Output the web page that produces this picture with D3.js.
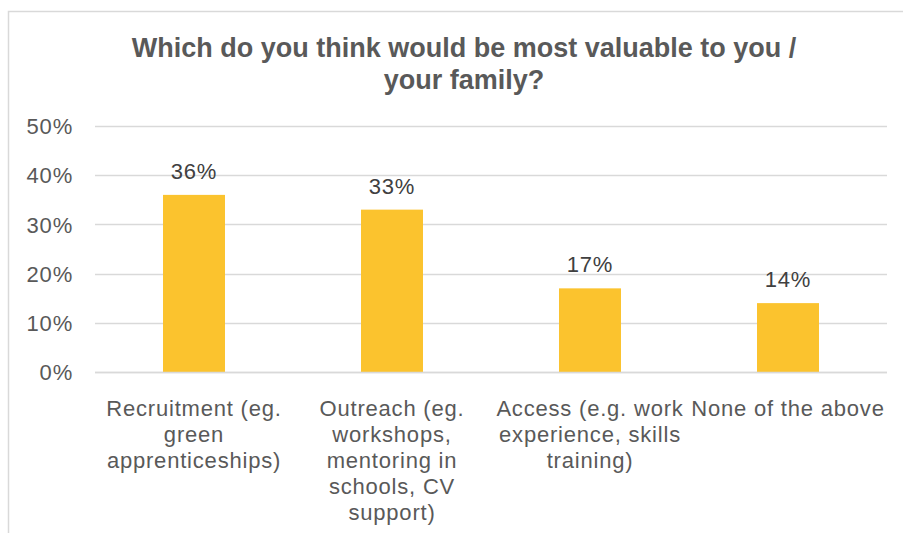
<!DOCTYPE html>
<html>
<head>
<meta charset="utf-8">
<script src="https://cdn.jsdelivr.net/npm/d3@7"></script>
<style>
  html, body { margin: 0; padding: 0; background: #fff; }
  svg { display: block; font-family: "Liberation Sans", Arial, sans-serif; }
</style>
</head>
<body>
<svg id="chart" width="903" height="533"></svg>
<script>
// Survey answers: share of respondents choosing each option
const categories = [
  "Recruitment (eg.\ngreen\napprenticeships)",
  "Outreach (eg.\nworkshops,\nmentoring in\nschools, CV\nsupport)",
  "Access (e.g. work\nexperience, skills\ntraining)",
  "None of the above"
];
const values = [0.36, 0.33, 0.17, 0.14];
const yTicks = [0, 0.1, 0.2, 0.3, 0.4, 0.5];
const titleLines = ["Which do you think would be most valuable to you /", "your family?"];

const svg = d3.select("#chart");
const textColor = "#595959";
const gridColor = "#d9d9d9";
const barColor = "#fbc32e";

// chart frame
svg.append("rect")
  .attr("x", 8.5).attr("y", 11.5)
  .attr("width", 1000).attr("height", 1000)
  .attr("fill", "#fff").attr("stroke", gridColor).attr("stroke-width", 1.5);

const plot = { left: 95, right: 887, top: 126, bottom: 372 };

const x = d3.scaleBand()
  .domain(categories)
  .range([plot.left, plot.right])
  .paddingInner(0.687).paddingOuter(0.3435);

const y = d3.scaleLinear()
  .domain([0, 0.5])
  .range([plot.bottom, plot.top]);

// title
svg.append("text")
  .attr("x", 464).attr("y", 57)
  .attr("text-anchor", "middle")
  .attr("fill", textColor)
  .attr("font-size", 27).attr("font-weight", "bold")
  .selectAll("tspan").data(titleLines).join("tspan")
  .attr("x", 464).attr("dy", (d, i) => i === 0 ? 0 : 32)
  .text(d => d);

// gridlines
svg.append("g")
  .selectAll("line").data(yTicks).join("line")
  .attr("x1", plot.left).attr("x2", plot.right)
  .attr("y1", d => Math.round(y(d)) + 0.5).attr("y2", d => Math.round(y(d)) + 0.5)
  .attr("stroke", gridColor).attr("stroke-width", 1.5);

// y axis labels
const yAxis = d3.axisLeft(y)
  .tickValues(yTicks)
  .tickFormat(d3.format(".0%"))
  .tickSize(0).tickPadding(0);
const yg = svg.append("g").attr("transform", "translate(73,0)").call(yAxis);
yg.select(".domain").remove();
yg.selectAll("text")
  .attr("fill", textColor)
  .attr("font-size", 22)
  .attr("letter-spacing", "0.8px")
  .attr("font-family", "Liberation Sans, Arial, sans-serif")
  .attr("dy", "0.35em");

// bars
svg.append("g")
  .selectAll("rect").data(values).join("rect")
  .attr("x", (d, i) => x(categories[i]))
  .attr("width", x.bandwidth())
  .attr("y", d => y(d))
  .attr("height", d => y(0) - y(d))
  .attr("fill", barColor);

// baseline redrawn over bars
svg.append("line")
  .attr("x1", plot.left).attr("x2", plot.right)
  .attr("y1", Math.round(y(0)) + 0.5).attr("y2", Math.round(y(0)) + 0.5)
  .attr("stroke", gridColor).attr("stroke-width", 1.5);

// value labels
svg.append("g")
  .selectAll("text").data(values).join("text")
  .attr("x", (d, i) => x(categories[i]) + x.bandwidth() / 2)
  .attr("y", d => y(d) - 16)
  .attr("text-anchor", "middle")
  .attr("fill", "#404040")
  .attr("font-size", 22)
  .attr("letter-spacing", "0.8px")
  .text(d => d3.format(".0%")(d));

// category labels (x axis)
const xAxis = d3.axisBottom(x).tickSize(0).tickFormat("");
const xg = svg.append("g").attr("transform", `translate(0,${plot.bottom})`).call(xAxis);
xg.select(".domain").remove();
xg.selectAll(".tick").append("text")
  .attr("text-anchor", "middle")
  .attr("fill", textColor)
  .attr("font-size", 22)
  .attr("letter-spacing", "0.8px")
  .attr("font-family", "Liberation Sans, Arial, sans-serif")
  .attr("y", 44)
  .selectAll("tspan").data(d => d.split("\n")).join("tspan")
  .attr("x", 0)
  .attr("dy", (d, i) => i === 0 ? 0 : 26)
  .text(d => d);
</script>
</body>
</html>
